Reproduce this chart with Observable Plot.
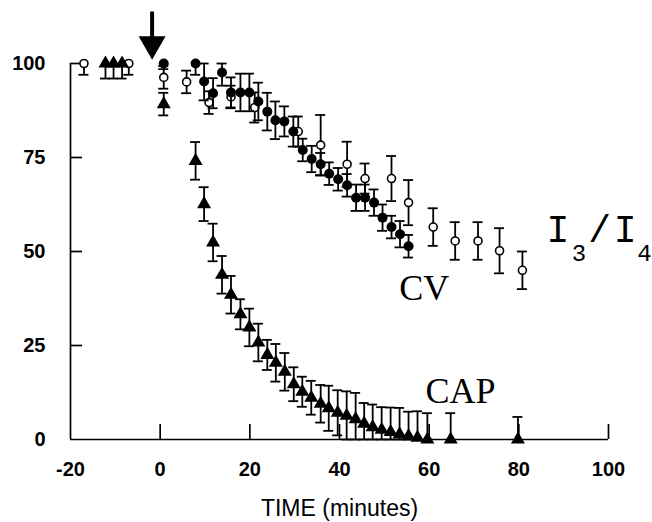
<!DOCTYPE html>
<html>
<head>
<meta charset="utf-8">
<script src="https://cdn.jsdelivr.net/npm/d3@7"></script>
<script src="https://cdn.jsdelivr.net/npm/@observablehq/plot@0.6"></script>
<style>
  html, body { margin: 0; padding: 0; background: #fff; }
  #chart svg { display: block; background: #fff; }
</style>
</head>
<body>
<div id="chart"></div>
<script>
// ---- axis ticks ----
const xTicks = [-20, 0, 20, 40, 60, 80, 100];
const yTicks = [0, 25, 50, 75, 100];
const xTitle = "TIME (minutes)";

// ---- I3/I4 series (open circles) ----
const openX   = [-17, -7, 0.8, 5.9, 10.9, 15.8, 21.1, 30.8, 35.8, 41.7, 45.7, 51.6, 55.4, 60.9, 65.8, 70.9, 75.7, 80.8];
const openY   = [100, 100, 96.3, 95.1, 89.6, 91.1, 88.3, 81.9, 78.3, 73.2, 69.4, 69.4, 63.0, 56.5, 52.8, 52.8, 50.2, 45.0];
const openErr = [3, 3, 3, 3, 3, 3, 4, 4, 8, 6, 4, 6, 6, 5, 5, 5, 6, 5];

// ---- CV series (filled circles) ----
const cvX   = [0.8, 7.9, 9.8, 11.8, 13.8, 15.8, 17.9, 19.9, 21.9, 23.9, 25.7, 27.7, 29.7, 31.8, 33.8, 35.8, 37.7, 39.7, 41.7, 43.7, 45.7, 47.7, 49.6, 51.6, 53.5, 55.4];
const cvY   = [100, 100, 95.2, 92.1, 97.6, 92.3, 92.3, 92.3, 89.9, 87.2, 84.9, 84.6, 81.9, 77.0, 74.6, 73.2, 70.7, 69.2, 67.6, 64.3, 64.3, 63.0, 59.0, 56.5, 54.6, 51.4];
const cvErr = [1.5, 3, 5, 4, 3.5, 4, 5, 5, 5, 5, 5, 4, 4, 3, 3.5, 3, 3, 3, 3, 3.5, 3.5, 3.5, 3.5, 3, 3.5, 3];

// ---- CAP series (filled triangles) ----
const capX   = [-12.2, -10.4, -8.5, 0.8, 7.9, 9.8, 11.8, 13.8, 15.8, 17.9, 19.9, 21.9, 23.9, 25.8, 27.8, 29.8, 31.7, 33.7, 35.8, 37.6, 39.6, 41.6, 43.6, 45.5, 47.4, 49.4, 51.4, 53.4, 55.4, 57.4, 59.6, 64.8, 79.8];
const capY   = [100, 100, 100, 89.2, 74.1, 62.6, 52.4, 43.8, 38.5, 33.3, 29.8, 25.8, 22.5, 20.4, 18.0, 14.7, 12.7, 11.1, 9.5, 8.3, 7.1, 6.3, 5.4, 4.2, 3.3, 2.6, 2.0, 1.4, 0.9, 0.5, 0, 0, 0];
const capErr = [4, 4, 4, 3, 5, 4.5, 5, 5, 5, 4, 5, 5, 4, 5, 5, 4.5, 4, 4.5, 5, 6, 6, 6.5, 7, 5.5, 6, 6, 6.5, 7, 6.5, 7, 7, 7, 6];

// ---- arrow marking drug application ----
const arrowX = [-1.8];
const arrowTop = [113.7];
const arrowTip = [101];

// ---- series labels ----
const serifLabels = ["CV", "CAP"];
const serifLabelX = [58.9, 67.0];
const serifLabelY = [37.0, 9.8];
const ratioLabels = ["I", "/", "I"];
const ratioLabelX = [88.7, 98.0, 103.7];
const ratioLabelY = [52.4, 52.4, 52.4];
const subLabels   = ["3", "4"];
const subLabelX   = [93.4, 108.0];
const subLabelY   = [47.6, 47.6];

// ---- build tables ----
const yMin = yTicks[0], yMax = yTicks[yTicks.length - 1];
const rows = (xs, ys, es) => xs.map((x, i) => ({
  x, y: ys[i],
  lo: Math.max(yMin, ys[i] - es[i]),
  hi: Math.min(yMax, ys[i] + es[i])
}));
const openRows = rows(openX, openY, openErr);
const cvRows = rows(cvX, cvY, cvErr);
const capRows = rows(capX, capY, capErr);
const arrowRows = arrowX.map((x, i) => ({x, top: arrowTop[i], tip: arrowTip[i]}));
const lab = (ts, xs, ys) => ts.map((t, i) => ({t, x: xs[i], y: ys[i]}));
const serifRows = lab(serifLabels, serifLabelX, serifLabelY);
const ratioRows = lab(ratioLabels, ratioLabelX, ratioLabelY);
const subRows = lab(subLabels, subLabelX, subLabelY);

const SW = 1.8;
const CAPW = 5;
const errMarks = (data) => [
  Plot.ruleX(data, {x: "x", y1: "lo", y2: "hi", stroke: "#000", strokeWidth: SW}),
  Plot.ruleY(data, {filter: d => d.hi > d.y, y: "hi", x1: "x", x2: "x", insetLeft: -CAPW, insetRight: -CAPW, stroke: "#000", strokeWidth: SW}),
  Plot.ruleY(data, {filter: d => d.lo < d.y, y: "lo", x1: "x", x2: "x", insetLeft: -CAPW, insetRight: -CAPW, stroke: "#000", strokeWidth: SW})
];

const tickFont = "Liberation Sans, Arial, Helvetica, sans-serif";
const serifFont = "Liberation Serif, Times New Roman, serif";
const monoFont = "Liberation Mono, Courier New, monospace";

const chart = Plot.plot({
  width: 652,
  height: 522,
  marginLeft: 70,
  marginRight: 44,
  marginTop: 63,
  marginBottom: 83,
  style: {background: "#fff", color: "#000"},
  x: {domain: [xTicks[0], xTicks[xTicks.length - 1]]},
  y: {domain: [yMin, yMax]},
  marks: [
    // axis lines
    Plot.ruleY([yMin], {x1: xTicks[0], x2: xTicks[xTicks.length - 1], stroke: "#000", strokeWidth: 1.7}),
    Plot.ruleX([xTicks[0]], {y1: yMin, y2: yMax, stroke: "#000", strokeWidth: 1.7}),
    // inward ticks
    Plot.ruleX(xTicks.slice(1), {y1: yMin, y2: yMin, insetBottom: 15, stroke: "#000", strokeWidth: 1.7}),
    Plot.ruleY(yTicks.slice(1), {x1: xTicks[0], x2: xTicks[0], insetRight: -12, stroke: "#000", strokeWidth: 1.7}),
    // tick labels
    Plot.axisX(xTicks, {tickSize: 0, tickPadding: 22, fontSize: 20, fontWeight: "bold", fontFamily: tickFont, tickFormat: d => String(d), label: null}),
    Plot.axisY(yTicks, {tickSize: 0, tickPadding: 25, fontSize: 20, fontWeight: "bold", fontFamily: tickFont, tickFormat: d => String(d), label: null}),
    Plot.text([xTitle], {text: d => d, frameAnchor: "bottom", dy: 76, lineAnchor: "bottom", fontSize: 23, fontFamily: tickFont}),
    // I3/I4
    ...errMarks(openRows),
    Plot.dot(openRows, {x: "x", y: "y", r: 4, fill: "#fff", stroke: "#000", strokeWidth: 1.6}),
    // CV
    ...errMarks(cvRows),
    Plot.dot(cvRows, {x: "x", y: "y", r: 5, fill: "#000", stroke: "none"}),
    // CAP
    ...errMarks(capRows),
    Plot.dot(capRows, {x: "x", y: "y", symbol: "triangle", r: 5.2, fill: "#000", stroke: "none"}),
    // arrow
    Plot.ruleX(arrowRows, {x: "x", y1: "top", y2: "tip", insetBottom: 12, stroke: "#000", strokeWidth: 4}),
    Plot.dot(arrowRows, {x: "x", y: "tip", symbol: "triangle", rotate: 180, r: 10, dy: -15.6, fill: "#000", stroke: "none"}),
    // labels
    Plot.text(serifRows, {x: "x", y: "y", text: "t", lineAnchor: "bottom", textAnchor: "middle", fontSize: 36, fontFamily: serifFont, fill: "#000"}),
    Plot.text(ratioRows, {x: "x", y: "y", text: "t", lineAnchor: "bottom", textAnchor: "middle", fontSize: 38, fontFamily: monoFont, fill: "#000"}),
    Plot.text(subRows, {x: "x", y: "y", text: "t", lineAnchor: "bottom", textAnchor: "middle", fontSize: 24, fontFamily: monoFont, fill: "#000"})
  ]
});
document.getElementById("chart").appendChild(chart);
</script>
</body>
</html>
